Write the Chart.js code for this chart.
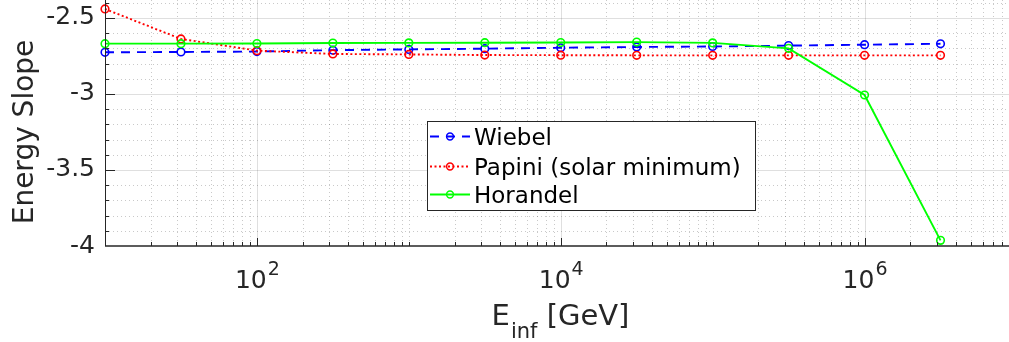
<!DOCTYPE html>
<html>
<head>
<meta charset="utf-8">
<script src="https://cdn.jsdelivr.net/npm/chart.js@4/dist/chart.umd.min.js"></script>
<style>
  html, body { margin: 0; padding: 0; background: #fff; }
  #wrap { width: 1009px; height: 342px; }
</style>
</head>
<body>
<div id="wrap"><canvas id="slopeChart" width="1009" height="342"></canvas></div>
<script>
// Energia (GeV) e declive espectral de cada modelo
const energies = [10, 31.62, 100, 316.2, 1000, 3162, 1e4, 3.162e4, 1e5, 3.162e5, 1e6, 3.162e6];
const wiebel   = [-2.726, -2.724, -2.721, -2.712, -2.707, -2.702, -2.696, -2.691, -2.688, -2.682, -2.676, -2.670];
const papini   = [-2.441, -2.638, -2.715, -2.737, -2.740, -2.744, -2.745, -2.746, -2.746, -2.746, -2.746, -2.746];
const horandel = [-2.669, -2.669, -2.668, -2.665, -2.664, -2.663, -2.662, -2.659, -2.664, -2.700, -3.007, -3.963];

const seriesLabels = ['Wiebel', 'Papini (solar minimum)', 'Horandel'];

// Ticks e rótulos dos eixos
const yTickValues = [-4, -3.5, -3, -2.5];
const yTickLabels = ['-4', '-3.5', '-3', '-2.5'];
const xTickValues = [1e2, 1e4, 1e6];
const xTickExponents = ['2', '4', '6'];
const yLabel = 'Energy Slope';
const xLabelMain = 'E';
const xLabelSub = 'inf';
const xLabelUnit = ' [GeV]';

const FONT = '"DejaVu Sans", sans-serif';
const TEXT_COLOR = '#262626';

const styles = [
    { color: '#0000ff', dash: [9, 7] },
    { color: '#ff0000', dash: [2, 2.5] },
    { color: '#00ff00', dash: [] }
];

function makeDataset(values, i, order) {
    return {
        label: seriesLabels[i],
        data: energies.map((e, k) => ({ x: e, y: values[k] })),
        borderColor: styles[i].color,
        borderDash: styles[i].dash,
        borderWidth: 1.9,
        pointStyle: 'circle',
        pointRadius: 3.8,
        pointBorderWidth: 1.6,
        pointBorderColor: styles[i].color,
        pointBackgroundColor: 'rgba(0,0,0,0)',
        tension: 0,
        clip: false,
        order: order
    };
}

// Plugin que desenha eixos ao estilo MATLAB (grelha, ticks para dentro, legenda)
const matlabAxes = {
    id: 'matlabAxes',
    beforeDatasetsDraw(chart) {
        const { ctx, chartArea: a, scales: { x, y } } = chart;
        ctx.save();
        // grelha menor (pontilhada)
        ctx.strokeStyle = 'rgba(38,38,38,0.25)';
        ctx.lineWidth = 1;
        ctx.setLineDash([1, 3]);
        for (let d = 1; d <= 6; d++) {
            for (let m = 1; m <= 9; m++) {
                const v = m * Math.pow(10, d);
                if (v <= x.min || v > x.max) continue;
                if (m === 1 && xTickValues.includes(v)) continue;
                const px = Math.round(x.getPixelForValue(v)) + 0.5;
                ctx.beginPath(); ctx.moveTo(px, a.top); ctx.lineTo(px, a.bottom); ctx.stroke();
            }
        }
        for (let k = -39; k <= -24; k++) {
            const v = k / 10;
            if (k % 5 === 0) continue;
            const py = Math.round(y.getPixelForValue(v)) + 0.5;
            ctx.beginPath(); ctx.moveTo(a.left, py); ctx.lineTo(a.right, py); ctx.stroke();
        }
        // grelha principal (sólida)
        ctx.setLineDash([]);
        ctx.strokeStyle = 'rgba(38,38,38,0.15)';
        xTickValues.forEach(v => {
            const px = Math.round(x.getPixelForValue(v)) + 0.5;
            ctx.beginPath(); ctx.moveTo(px, a.top); ctx.lineTo(px, a.bottom); ctx.stroke();
        });
        yTickValues.forEach(v => {
            if (v === -4) return;
            const py = Math.round(y.getPixelForValue(v)) + 0.5;
            ctx.beginPath(); ctx.moveTo(a.left, py); ctx.lineTo(a.right, py); ctx.stroke();
        });
        ctx.restore();
    },
    afterDatasetsDraw(chart) {
        const { ctx, chartArea: a, scales: { x, y } } = chart;
        ctx.save();
        ctx.strokeStyle = TEXT_COLOR;
        ctx.fillStyle = TEXT_COLOR;
        ctx.lineWidth = 1;
        ctx.setLineDash([]);

        // linhas dos eixos
        ctx.beginPath();
        ctx.moveTo(a.left + 0.5, a.top); ctx.lineTo(a.left + 0.5, a.bottom);
        ctx.stroke();
        ctx.lineWidth = 1.5;
        ctx.beginPath();
        ctx.moveTo(a.left, a.bottom); ctx.lineTo(a.right, a.bottom);
        ctx.stroke();
        ctx.lineWidth = 1;

        // ticks do eixo x (para dentro)
        for (let d = 1; d <= 6; d++) {
            for (let m = 1; m <= 9; m++) {
                const v = m * Math.pow(10, d);
                if (v <= x.min || v > x.max) continue;
                const major = xTickValues.includes(v);
                const px = Math.round(x.getPixelForValue(v)) + 0.5;
                ctx.beginPath(); ctx.moveTo(px, a.bottom); ctx.lineTo(px, a.bottom - (major ? 8 : 4)); ctx.stroke();
            }
        }
        // ticks do eixo y
        for (let k = -39; k <= -24; k++) {
            const v = k / 10;
            const major = k % 5 === 0;
            const py = Math.round(y.getPixelForValue(v)) + 0.5;
            ctx.beginPath(); ctx.moveTo(a.left, py); ctx.lineTo(a.left + (major ? 10 : 4), py); ctx.stroke();
        }

        // rótulos do eixo y
        ctx.font = '25px ' + FONT;
        ctx.textAlign = 'right';
        ctx.textBaseline = 'middle';
        yTickValues.forEach((v, i) => {
            ctx.fillText(yTickLabels[i], a.left - 10, y.getPixelForValue(v));
        });

        // rótulos do eixo x com expoente
        ctx.textAlign = 'left';
        ctx.textBaseline = 'alphabetic';
        xTickValues.forEach((v, i) => {
            ctx.font = '25px ' + FONT;
            const wBase = ctx.measureText('10').width;
            ctx.font = '19px ' + FONT;
            const wExp = ctx.measureText(xTickExponents[i]).width;
            const start = x.getPixelForValue(v) - (wBase + wExp) / 2;
            ctx.font = '25px ' + FONT;
            ctx.fillText('10', start, 288);
            ctx.font = '19px ' + FONT;
            ctx.fillText(xTickExponents[i], start + wBase + 1, 275);
        });

        // título do eixo x com índice
        ctx.font = '29px ' + FONT;
        const wE = ctx.measureText(xLabelMain).width;
        const wU = ctx.measureText(xLabelUnit).width;
        ctx.font = '21px ' + FONT;
        const wS = ctx.measureText(xLabelSub).width;
        let sx = 560 - (wE + wS + wU) / 2;
        ctx.font = '29px ' + FONT;
        ctx.fillText(xLabelMain, sx, 325);
        ctx.font = '21px ' + FONT;
        ctx.fillText(xLabelSub, sx + wE + 1, 338);
        ctx.font = '29px ' + FONT;
        ctx.fillText(xLabelUnit, sx + wE + wS + 1, 325);

        // título do eixo y
        ctx.save();
        ctx.translate(33, 132);
        ctx.rotate(-Math.PI / 2);
        ctx.font = '28px ' + FONT;
        ctx.textAlign = 'center';
        ctx.fillText(yLabel, 0, 0);
        ctx.restore();

        // legenda
        const box = { l: 427, t: 121, r: 755, b: 210 };
        ctx.fillStyle = '#ffffff';
        ctx.fillRect(box.l, box.t, box.r - box.l, box.b - box.t);
        ctx.strokeStyle = TEXT_COLOR;
        ctx.lineWidth = 1;
        ctx.strokeRect(box.l + 0.5, box.t + 0.5, box.r - box.l, box.b - box.t);
        const baselines = [145, 175, 203];
        seriesLabels.forEach((label, i) => {
            const cy = baselines[i] - 8.5;
            ctx.strokeStyle = styles[i].color;
            ctx.lineWidth = 1.8;
            ctx.setLineDash(styles[i].dash);
            ctx.beginPath(); ctx.moveTo(430, cy); ctx.lineTo(470, cy); ctx.stroke();
            ctx.setLineDash([]);
            ctx.lineWidth = 1.5;
            ctx.beginPath(); ctx.arc(450, cy, 3.4, 0, Math.PI * 2); ctx.stroke();
            ctx.fillStyle = '#000000';
            ctx.font = '23px ' + FONT;
            ctx.textAlign = 'left';
            ctx.fillText(label, 474, baselines[i]);
        });
        ctx.restore();
    }
};

const ctx = document.getElementById('slopeChart').getContext('2d');
new Chart(ctx, {
    type: 'line',
    data: {
        datasets: [
            makeDataset(wiebel, 0, 2),
            makeDataset(papini, 1, 1),
            makeDataset(horandel, 2, 0)
        ]
    },
    options: {
        responsive: false,
        animation: false,
        devicePixelRatio: 1,
        layout: { padding: 0, autoPadding: false },
        plugins: {
            legend: { display: false },
            tooltip: { enabled: false },
            title: { display: false }
        },
        scales: {
            x: {
                type: 'logarithmic',
                min: 10,
                max: 8.93e6,
                ticks: { display: false },
                grid: { display: false },
                border: { display: false },
                afterFit: s => { s.height = 96; }
            },
            y: {
                type: 'linear',
                min: -4,
                max: -2.382,
                ticks: { display: false },
                grid: { display: false },
                border: { display: false },
                afterFit: s => { s.width = 105; }
            }
        }
    },
    plugins: [matlabAxes]
});
</script>
</body>
</html>
